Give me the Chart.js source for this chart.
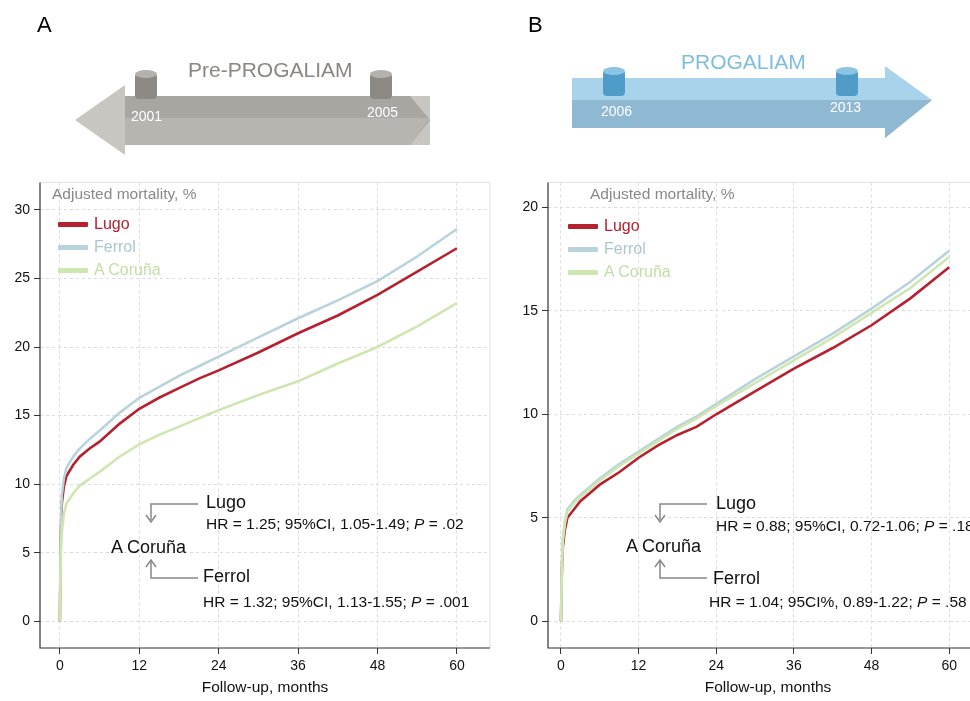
<!DOCTYPE html>
<html><head><meta charset="utf-8">
<script src="https://cdn.jsdelivr.net/npm/chart.js@4"></script>
<style>
body{margin:0;width:970px;height:701px;overflow:hidden;background:#fff;font-family:"Liberation Sans",Arial,sans-serif;position:relative}
canvas{position:absolute}
.t{position:absolute;white-space:nowrap}
.lg{position:absolute;font-size:16px;line-height:23px}
.lg span{display:inline-block;width:30px;height:5px;margin-right:6px;vertical-align:middle;border-radius:1px}
.ann{font-size:18px;color:#111}
.hr{font-size:15.5px;color:#111}
svg{position:absolute;left:0;top:0}
</style></head><body>
<canvas id="ca" style="left:0;top:170px"></canvas>
<canvas id="cb" style="left:508px;top:170px"></canvas>
<svg width="970" height="701">
  <polygon points="75,120 125,85 125,96 430,96 430,145 125,145 125,155" fill="#c9c6c2"/>
  <polygon points="125,96 410,96 430,120 410,145 125,145" fill="#a9a5a1"/>
  <polygon points="125,118 430,118 410,145 125,145" fill="#b8b4b0"/>
  <rect x="135" y="73" width="22" height="26" rx="4" fill="#8d8985"/><ellipse cx="146" cy="74" rx="11" ry="4" fill="#b5b1ad"/>
  <rect x="370" y="73" width="22" height="26" rx="4" fill="#8d8985"/><ellipse cx="381" cy="74" rx="11" ry="4" fill="#b5b1ad"/>
  <polygon points="572,78 885,78 885,66 932,100 885,138 885,128 572,128" fill="#a9d3ea"/>
  <polygon points="572,100 932,100 885,138 885,128 572,128" fill="#8fb8d3"/>
  <rect x="603" y="70" width="22" height="26" rx="4" fill="#4f9cc9"/><ellipse cx="614" cy="71" rx="11" ry="4" fill="#8cc4e3"/>
  <rect x="836" y="70" width="22" height="26" rx="4" fill="#4f9cc9"/><ellipse cx="847" cy="71" rx="11" ry="4" fill="#8cc4e3"/>
  <g stroke="#888" stroke-width="1.5" fill="none">
    <polyline points="198,504 151,504 151,520"/><polyline points="146,515 151,522 156,515"/>
    <polyline points="198,578 151,578 151,561"/><polyline points="146,567 151,560 156,567"/>
    <polyline points="707,504 660,504 660,520"/><polyline points="655,515 660,522 665,515"/>
    <polyline points="707,578 660,578 660,561"/><polyline points="655,567 660,560 665,567"/>
  </g>
</svg>
<div class="t" style="left:37px;top:12px;font-size:22px">A</div>
<div class="t" style="left:528px;top:12px;font-size:22px">B</div>
<div class="t" style="left:188px;top:58px;font-size:21px;color:#8a8682">Pre-PROGALIAM</div>
<div class="t" style="left:131px;top:108px;font-size:14px;color:#fff">2001</div>
<div class="t" style="left:367px;top:104px;font-size:14px;color:#fff">2005</div>
<div class="t" style="left:681px;top:50px;font-size:21px;color:#7fbde0">PROGALIAM</div>
<div class="t" style="left:601px;top:103px;font-size:14px;color:#fff">2006</div>
<div class="t" style="left:830px;top:99px;font-size:14px;color:#fff">2013</div>

<div class="t" style="left:52px;top:185px;font-size:15.5px;color:#888">Adjusted mortality, %</div>
<div class="lg" style="left:58px;top:212px">
<div style="color:#b5212f"><span style="background:#b5212f"></span>Lugo</div>
<div style="color:#a9c6d0"><span style="background:#b9d3dc"></span>Ferrol</div>
<div style="color:#c3dea3"><span style="background:#cfe6b0"></span>A Coruña</div></div>
<div class="t" style="left:590px;top:185px;font-size:15.5px;color:#888">Adjusted mortality, %</div>
<div class="lg" style="left:568px;top:214px">
<div style="color:#b5212f"><span style="background:#b5212f"></span>Lugo</div>
<div style="color:#a9c6d0"><span style="background:#b9d3dc"></span>Ferrol</div>
<div style="color:#c3dea3"><span style="background:#cfe6b0"></span>A Coruña</div></div>

<div class="t ann" style="left:206px;top:492px">Lugo</div>
<div class="t hr" style="left:206px;top:515px">HR = 1.25; 95%CI, 1.05-1.49; <i>P</i> = .02</div>
<div class="t ann" style="left:111px;top:537px">A Coruña</div>
<div class="t ann" style="left:203px;top:566px">Ferrol</div>
<div class="t hr" style="left:203px;top:593px">HR = 1.32; 95%CI, 1.13-1.55; <i>P</i> = .001</div>
<div class="t ann" style="left:716px;top:493px">Lugo</div>
<div class="t hr" style="left:716px;top:517px">HR = 0.88; 95%CI, 0.72-1.06; <i>P</i> = .18</div>
<div class="t ann" style="left:626px;top:536px">A Coruña</div>
<div class="t ann" style="left:713px;top:568px">Ferrol</div>
<div class="t hr" style="left:709px;top:593px">HR = 1.04; 95CI%, 0.89-1.22; <i>P</i> = .58</div>
<script>
const months = [0, 0.15, 0.3, 0.6, 1, 2, 3, 4.5, 6, 9, 12, 15, 18, 21, 24, 30, 36, 42, 48, 54, 60];
// Panel A (pre-PROGALIAM)
const lugoA =   [0, 6.5, 8.6, 9.8, 10.6, 11.4, 12.0, 12.6, 13.1, 14.4, 15.5, 16.3, 17.0, 17.7, 18.3, 19.6, 21.0, 22.3, 23.8, 25.5, 27.2];
const ferrolA = [0, 7.0, 9.2, 10.4, 11.2, 12.0, 12.6, 13.3, 13.9, 15.2, 16.3, 17.1, 17.9, 18.6, 19.3, 20.7, 22.1, 23.4, 24.8, 26.6, 28.6];
const corunaA = [0, 5.0, 6.5, 7.8, 8.6, 9.3, 9.9, 10.4, 10.9, 12.0, 12.9, 13.6, 14.2, 14.8, 15.4, 16.5, 17.5, 18.8, 20.0, 21.5, 23.2];
// Panel B (PROGALIAM)
const lugoB =   [0, 2.5, 3.6, 4.4, 5.0, 5.4, 5.8, 6.2, 6.6, 7.2, 7.9, 8.5, 9.0, 9.4, 10.0, 11.1, 12.2, 13.2, 14.3, 15.6, 17.1];
const ferrolB = [0, 2.8, 4.0, 4.8, 5.4, 5.8, 6.1, 6.5, 6.9, 7.6, 8.2, 8.8, 9.4, 9.9, 10.5, 11.7, 12.8, 13.9, 15.1, 16.4, 17.9];
const corunaB = [0, 2.7, 3.9, 4.7, 5.3, 5.7, 6.0, 6.4, 6.8, 7.5, 8.1, 8.7, 9.3, 9.8, 10.4, 11.5, 12.6, 13.7, 14.9, 16.1, 17.6];
const xTicks = [0, 12, 24, 36, 48, 60];
const yTicksA = [0, 5, 10, 15, 20, 25, 30];
const yTicksB = [0, 5, 10, 15, 20];

Chart.defaults.animation = false;
Chart.defaults.font.family = '"Liberation Sans", Arial, sans-serif';

function ds(label, ys, color) {
  return { label, data: months.map((m, i) => ({ x: m, y: ys[i] })), borderColor: color,
    borderWidth: 2.6, pointRadius: 0, tension: 0, fill: false };
}

function make(id, w, series, yTicks, xr, yr, padRight) {
  const c = document.getElementById(id);
  c.width = w; c.height = 531;
  c.style.width = w + 'px'; c.style.height = '531px';
  return new Chart(c, {
    type: 'line',
    data: { datasets: [
      ds('A Coruña', series[2], '#cfe6b0'),
      ds('Ferrol', series[1], '#b9d3dc'),
      ds('Lugo', series[0], '#b5212f'),
    ] },
    options: {
      responsive: false,
      layout: { padding: { top: 5, right: padRight, left: 0, bottom: 0 } },
      plugins: { legend: { display: false }, tooltip: { enabled: false } },
      scales: {
        x: { type: 'linear', min: xr[0], max: xr[1],
          afterBuildTicks: (s) => { s.ticks = xTicks.map((v) => ({ value: v })); },
          afterFit: (s) => { s.height = 53; },
          grid: { color: '#dcdcdc', tickColor: '#333', tickLength: 6 },
          border: { display: false, dash: [3, 3] },
          ticks: { color: '#111', font: { size: 14 }, maxRotation: 0, padding: 4 },
          title: { display: true, text: 'Follow-up, months', color: '#111', font: { size: 15.5 }, padding: { top: 4 } } },
        y: { min: yr[0], max: yr[1],
          afterBuildTicks: (s) => { s.ticks = yTicks.map((v) => ({ value: v })); },
          afterFit: (s) => { s.width = 40; },
          grid: { color: '#dcdcdc', tickColor: '#333', tickLength: 6 },
          border: { display: false, dash: [3, 3] },
          ticks: { color: '#111', font: { size: 14 }, padding: 4 } },
      },
    },
    plugins: [{
      id: 'frame',
      afterDraw(ch) {
        const { ctx, chartArea: a } = ch;
        ctx.save();
        ctx.strokeStyle = '#e2e2e2'; ctx.lineWidth = 1;
        ctx.beginPath();
        ctx.moveTo(a.left, a.top); ctx.lineTo(a.right, a.top); ctx.lineTo(a.right, a.bottom);
        ctx.stroke();
        ctx.strokeStyle = '#333'; ctx.lineWidth = 1.2;
        ctx.beginPath();
        ctx.moveTo(a.left, a.top); ctx.lineTo(a.left, a.bottom); ctx.lineTo(a.right, a.bottom);
        ctx.stroke();
        ctx.restore();
      },
    }],
  });
}
make('ca', 500, [lugoA, ferrolA, corunaA], yTicksA, [-3, 65], [-1.94, 32], 10);
make('cb', 480, [lugoB, ferrolB, corunaB], yTicksB, [-2, 66], [-1.29, 21.2], 0);
</script>
</body></html>
